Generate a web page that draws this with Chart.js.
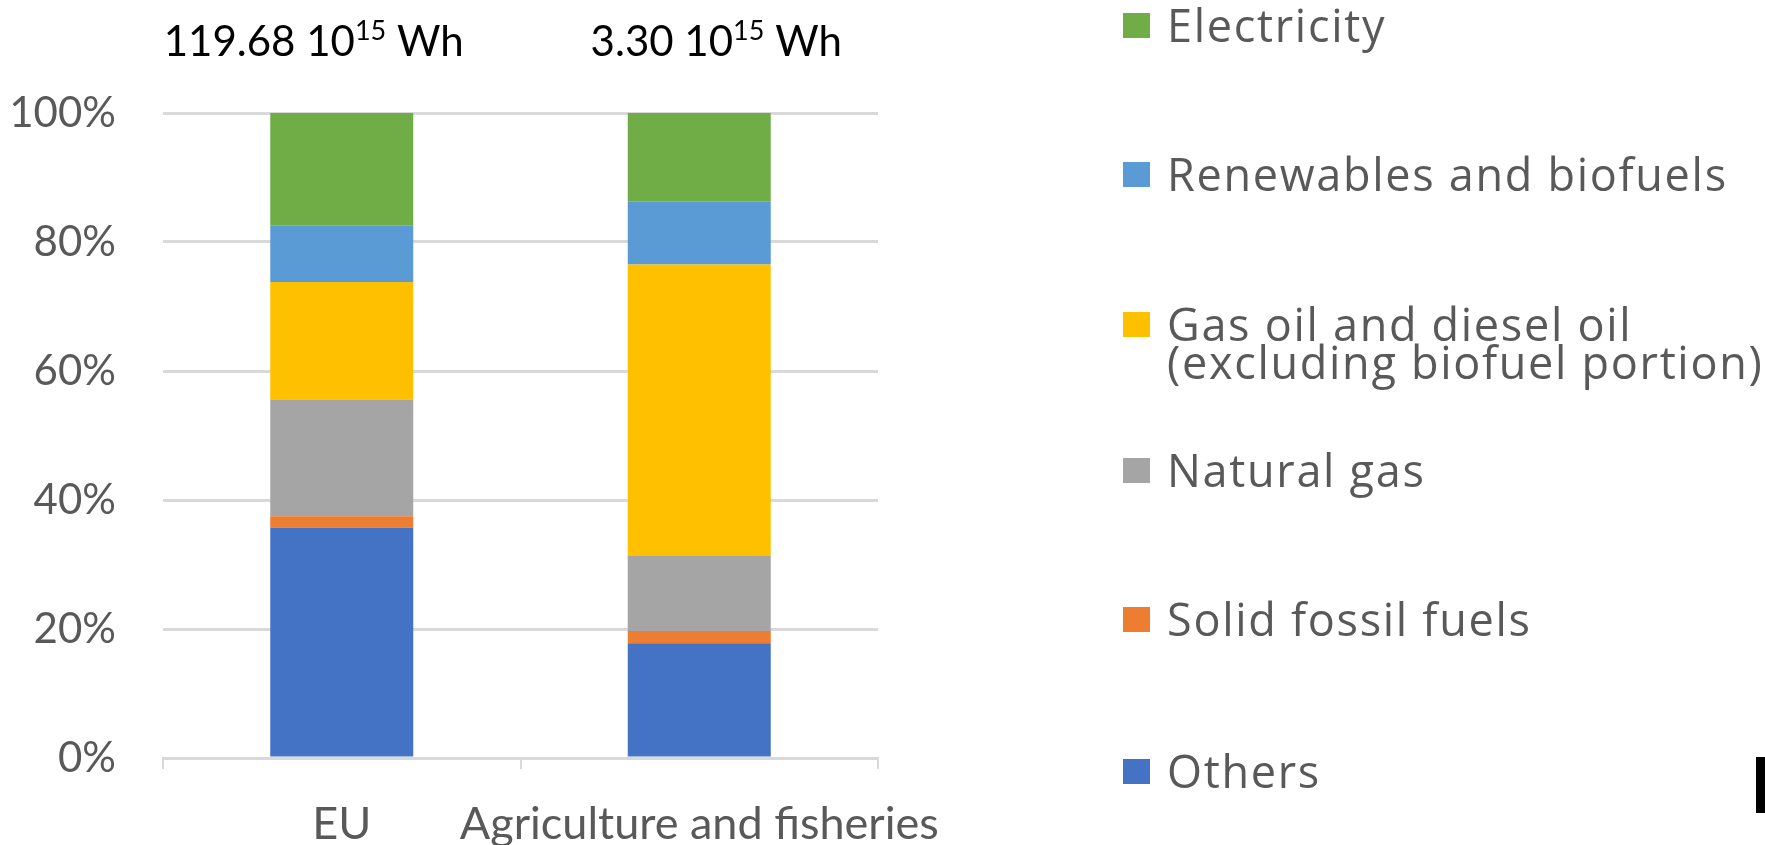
<!DOCTYPE html>
<html>
<head>
<meta charset="utf-8">
<script src="https://cdn.jsdelivr.net/npm/chart.js@4.4.1/dist/chart.umd.min.js"></script>
<style>
  html, body { margin: 0; padding: 0; background: #fff; }
  #wrap { position: relative; width: 1765px; height: 845px; overflow: hidden; }
  #legend { position: absolute; left: 0; top: 0; font-family: "Open Sans"; font-size: 45px; letter-spacing: 1.7px; color: #595959; }
  .item { position: absolute; left: 1123px; display: flex; align-items: flex-start; white-space: pre; line-height: 38px; }
  .box { width: 27px; height: 25px; margin-top: 7px; margin-right: 17px; flex: none; }
  .edge { position: absolute; left: 1756px; top: 757px; width: 9px; height: 56px; background: #000; }
</style>
</head>
<body>
<div id="wrap">
  <canvas id="chart" width="1765" height="845"></canvas>
  <div id="legend"></div>
  <div class="edge"></div>
</div>
<script>
(() => {
  const categories = ['EU', 'Agriculture and fisheries']
  const totals = ['119.68', '3.30']

  // shares in %, bottom to top
  const others = [35.7, 17.8]
  const solidFossil = [1.8, 1.9]
  const naturalGas = [18.1, 11.6]
  const gasOil = [18.2, 45.2]
  const renewables = [8.8, 9.8]
  const electricity = [17.4, 13.7]

  const yTicks = [0, 20, 40, 60, 80, 100]

  const series = [
    { label: 'Others', data: others, color: '#4472C4' },
    { label: 'Solid fossil fuels', data: solidFossil, color: '#ED7D31' },
    { label: 'Natural gas', data: naturalGas, color: '#A5A5A5' },
    { label: 'Gas oil and diesel oil\n(excluding biofuel portion)', data: gasOil, color: '#FFC000' },
    { label: 'Renewables and biofuels', data: renewables, color: '#5B9BD5' },
    { label: 'Electricity', data: electricity, color: '#70AD47' },
  ]

  const labelShift = [-28, 17]

  const totalLabels = {
    id: 'totalLabels',
    afterDraw(chart) {
      const { ctx } = chart
      const x = chart.scales.x
      ctx.save()
      ctx.fillStyle = '#000'
      ctx.textBaseline = 'alphabetic'
      ctx.textAlign = 'left'
      totals.forEach((t, i) => {
        const parts = [
          [t + ' 10', '42px Lato', 0],
          ['15', '27px Lato', -16],
          [' Wh', '42px Lato', 0],
        ]
        let w = 0
        parts.forEach(p => { ctx.font = p[1]; w += ctx.measureText(p[0]).width })
        let cx = x.getPixelForValue(i) + labelShift[i] - w / 2
        parts.forEach(p => {
          ctx.font = p[1]
          ctx.fillText(p[0], cx, 56 + p[2])
          cx += ctx.measureText(p[0]).width
        })
      })
      ctx.restore()
    }
  }

  const chart = new Chart(document.getElementById('chart'), {
    type: 'bar',
    data: {
      labels: categories,
      datasets: series.map(s => ({
        label: s.label,
        data: s.data,
        backgroundColor: s.color,
        borderWidth: 0,
        barPercentage: 0.4,
        categoryPercentage: 1,
      }))
    },
    options: {
      responsive: false,
      animation: false,
      layout: { padding: { top: 113, right: 887, bottom: 0, left: 0 } },
      plugins: {
        legend: { display: false },
        tooltip: { enabled: false },
      },
      scales: {
        x: {
          stacked: true,
          afterFit: s => { s.height = 87 },
          grid: { offset: true, drawOnChartArea: false, color: '#D9D9D9', lineWidth: 2, tickLength: 11 },
          border: { color: '#D9D9D9', width: 3 },
          ticks: { color: '#595959', font: { family: 'Lato', size: 45 }, padding: 28, maxRotation: 0, autoSkip: false },
        },
        y: {
          stacked: true,
          min: 0,
          max: 100,
          afterFit: s => { s.width = 163 },
          afterBuildTicks: s => { s.ticks = yTicks.map(v => ({ value: v })) },
          grid: { color: '#D9D9D9', lineWidth: 3, drawTicks: false },
          border: { display: false },
          ticks: {
            color: '#595959',
            font: { family: 'Lato', size: 42 },
            padding: 47,
            callback: v => v + '%',
          },
        },
      },
    },
    plugins: [totalLabels],
  })

  // legend, top entry first
  const legendTops = [6, 155, 305, 451, 600, 752]
  const legend = document.getElementById('legend')
  chart.data.datasets.slice().reverse().forEach((ds, i) => {
    const item = document.createElement('div')
    item.className = 'item'
    item.style.top = legendTops[i] + 'px'
    const box = document.createElement('span')
    box.className = 'box'
    box.style.background = ds.backgroundColor
    const txt = document.createElement('span')
    txt.textContent = ds.label
    item.appendChild(box)
    item.appendChild(txt)
    legend.appendChild(item)
  })
})()
</script>
</body>
</html>
